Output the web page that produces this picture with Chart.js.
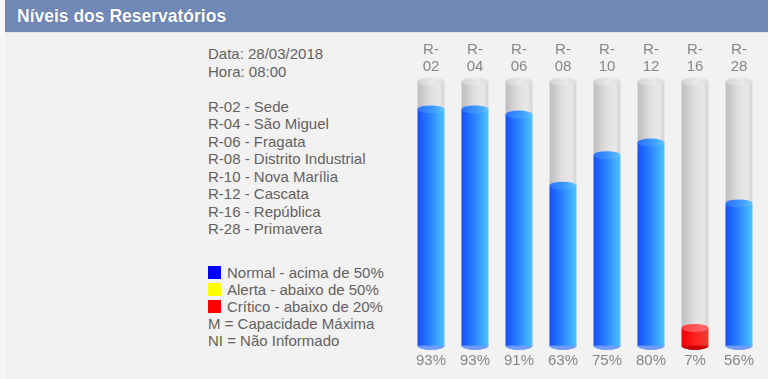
<!DOCTYPE html>
<html>
<head>
<meta charset="utf-8">
<script src="https://cdn.jsdelivr.net/npm/chart.js@4/dist/chart.umd.min.js"></script>
<style>
  html,body{margin:0;padding:0;}
  body{width:768px;height:379px;background:#f7f7f7;position:relative;overflow:hidden;font-family:'Liberation Sans',Arial,sans-serif;}
  #panel{position:absolute;left:5px;top:0;width:763px;height:379px;background:#f2f2f2;}
  #title{position:absolute;left:5px;top:0;width:763px;height:32px;background:#7189b6;border-bottom:1px solid #dfe5ef;}
  #title span{position:absolute;left:12px;top:6px;color:#fff;font-weight:bold;font-size:17.5px;text-shadow:0 0 1px rgba(40,50,80,0.6);}
  #info{position:absolute;left:208px;top:45px;color:#65615e;font-size:15px;line-height:17.5px;}
  #legend{position:absolute;left:208px;top:264px;color:#65615e;font-size:15px;line-height:17px;}
  .sq{display:inline-block;width:13px;height:13px;margin-right:6px;vertical-align:-1px;}
  #wrap{position:absolute;left:400px;top:33px;width:368px;height:346px;}
</style>
</head>
<body>
<div id="panel"></div>
<div id="title"><span>Níveis dos Reservatórios</span></div>
<div id="info"></div>
<div id="legend"></div>
<div id="wrap"><canvas id="c"></canvas></div>
<script>
// ---- data ----
const reportDate = '28/03/2018';
const reportHour = '08:00';
const categories = ['R-02','R-04','R-06','R-08','R-10','R-12','R-16','R-28'];
const names = ['Sede','São Miguel','Fragata','Distrito Industrial','Nova Marília','Cascata','República','Primavera'];
const levels = [93, 93, 91, 63, 75, 80, 7, 56];
const tankTop = 104; // visual height of the empty tank, in % units
const legendItems = [
  ['#0000ff','Normal - acima de 50%'],
  ['#ffff00','Alerta - abaixo de 50%'],
  ['#ff0000','Crítico - abaixo de 20%'],
  [null,'M = Capacidade Máxima'],
  [null,'NI = Não Informado']
];

// ---- side text ----
let html = 'Data: ' + reportDate + '<br>Hora: ' + reportHour + '<br><br>';
html += categories.map((c,i)=>c + ' - ' + names[i]).join('<br>');
document.getElementById('info').innerHTML = html;
document.getElementById('legend').innerHTML = legendItems.map(([col,t]) =>
  (col ? '<span class="sq" style="background:'+col+'"></span>' : '') + t).join('<br>');

// ---- palettes ----
const palettes = {
  gray:  {body:[[0,'#bdbdbd'],[0.45,'#dedede'],[0.8,'#e8e8e8'],[1,'#d4d4d4']], top:[[0,'#d2d2d2'],[0.6,'#eaeaea'],[1,'#dedede']], bottom:'#d0d0d0'},
  blue:  {body:[[0,'#1550ff'],[0.5,'#2a85ff'],[1,'#4cc4ff']], top:[[0,'#2a70ff'],[0.6,'#3f9cff'],[1,'#62c6ff']], bottom:'#6f9bff'},
  yellow:{body:[[0,'#e0d000'],[0.5,'#ffee20'],[1,'#fff66a']], top:[[0,'#f0e040'],[1,'#fff890']], bottom:'#d8c800'},
  red:   {body:[[0,'#f00000'],[0.5,'#ff2020'],[1,'#e84030']], top:[[0,'#ff4040'],[1,'#ff6a6a']], bottom:'#cc0000'}
};
function paletteFor(v){ return v >= 50 ? palettes.blue : (v >= 20 ? palettes.yellow : palettes.red); }

function grad(ctx, l, w, stops){
  const g = ctx.createLinearGradient(l, 0, l + w, 0);
  stops.forEach(s => g.addColorStop(s[0], s[1]));
  return g;
}
function drawCyl(ctx, x, top, bottom, w, pal){
  const l = x - w/2, ry = Math.max(3, w * 0.15);
  ctx.save();
  ctx.beginPath();
  ctx.ellipse(x, bottom, w/2, ry, 0, 0, Math.PI*2);
  ctx.fillStyle = pal.bottom; ctx.fill();
  ctx.fillStyle = grad(ctx, l, w, pal.body);
  ctx.fillRect(l, top, w, bottom - top);
  ctx.beginPath();
  ctx.ellipse(x, bottom, w/2, ry, 0, 0, Math.PI);
  ctx.fillStyle = pal.bottom; ctx.fill();
  ctx.beginPath();
  ctx.ellipse(x, top, w/2, ry, 0, 0, Math.PI*2);
  ctx.fillStyle = grad(ctx, l, w, pal.top); ctx.fill();
  ctx.restore();
}

const cylinderPlugin = {
  id: 'cylinders',
  afterDatasetsDraw(chart){
    const ctx = chart.ctx;
    const tank = chart.getDatasetMeta(0), lvl = chart.getDatasetMeta(1);
    tank.data.forEach((bar, i) => {
      const t = bar.getProps(['x','y','base','width'], true);
      drawCyl(ctx, t.x, t.y, t.base, t.width, palettes.gray);
      const b = lvl.data[i].getProps(['x','y','base','width'], true);
      drawCyl(ctx, b.x, b.y, b.base, b.width, paletteFor(levels[i]));
    });
  }
};

const tickFont = {family: "'Liberation Sans', Arial", size: 15, lineHeight: 1.15};
new Chart(document.getElementById('c'), {
  type: 'bar',
  data: {
    labels: categories.map(c => [c.slice(0,2), c.slice(2)]),
    datasets: [
      {data: categories.map(() => tankTop), backgroundColor: 'rgba(0,0,0,0)', grouped: false},
      {data: levels, backgroundColor: 'rgba(0,0,0,0)', grouped: false}
    ]
  },
  options: {
    responsive: true,
    maintainAspectRatio: false,
    animation: false,
    events: [],
    layout: {padding: {left: 9, right: 7, top: 10, bottom: 12}},
    datasets: {bar: {categoryPercentage: 1, barPercentage: 0.61}},
    plugins: {legend: {display: false}, tooltip: {enabled: false}},
    scales: {
      x: {
        position: 'top',
        grid: {display: false}, border: {display: false},
        ticks: {color: '#8a8582', font: tickFont, padding: -2, maxRotation: 0}
      },
      x2: {
        type: 'category', position: 'bottom', offset: true,
        labels: levels.map(v => v + '%'),
        grid: {display: false}, border: {display: false},
        ticks: {color: '#8a8582', font: tickFont, padding: -2, maxRotation: 0}
      },
      y: {display: false, min: 0, max: tankTop}
    }
  },
  plugins: [cylinderPlugin]
});
</script>
</body>
</html>
